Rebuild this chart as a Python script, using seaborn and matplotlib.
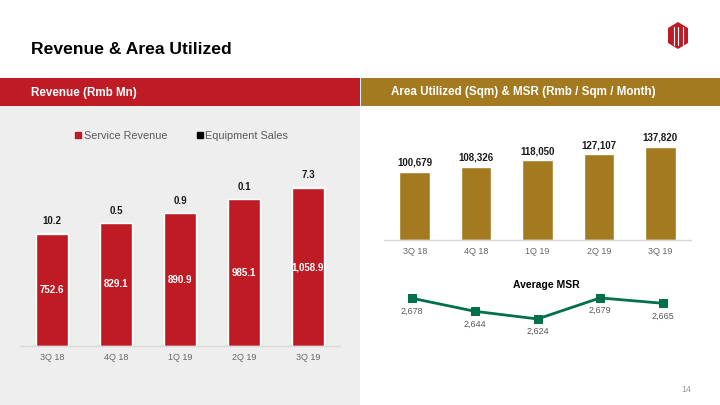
import numpy as np
import pandas as pd
import matplotlib
matplotlib.use("Agg")
import matplotlib.pyplot as plt
from matplotlib.patches import Rectangle, Polygon
from matplotlib.lines import Line2D
import seaborn as sns

# --- data ---
quarters = ["3Q 18", "4Q 18", "1Q 19", "2Q 19", "3Q 19"]
service_revenue = [752.6, 829.1, 890.9, 985.1, 1058.9]
equipment_sales = [10.2, 0.5, 0.9, 0.1, 7.3]
area_utilized = [100679, 108326, 118050, 127107, 137820]
avg_msr = [2678, 2644, 2624, 2679, 2665]

RED = "#BE1B24"
GOLD = "#A37A20"
GREEN = "#00704A"
GRAY_BG = "#EEEEEE"
TICK_GRAY = "#666666"

sns.set_theme(style="white")
plt.rcParams["font.family"] = ["Liberation Sans", "DejaVu Sans"]

W, H = 720, 405
fig = plt.figure(figsize=(7.2, 4.05), dpi=100)
fig.patch.set_facecolor("white")


def px_rect(x0, y0, x1, y1):
    # pixel box (top-left origin) -> figure fraction rect
    return [x0 / W, 1 - y1 / H, (x1 - x0) / W, (y1 - y0) / H]


# --- page decorations (behind the axes) ---
fig.patches.append(Rectangle((0, 0), 360 / W, 1 - 106 / H, transform=fig.transFigure,
                             facecolor=GRAY_BG, edgecolor="none", zorder=-5))
fig.patches.append(Rectangle((0, 1 - 106 / H), 360 / W, 28 / H, transform=fig.transFigure,
                             facecolor=RED, edgecolor="none", zorder=-5))
fig.patches.append(Rectangle((361 / W, 1 - 106 / H), 359 / W, 28 / H, transform=fig.transFigure,
                             facecolor=GOLD, edgecolor="none", zorder=-5))

fig.text(31 / W, 1 - 49 / H, "Revenue & Area Utilized", fontsize=12.6, fontweight="bold",
         color="black", va="center", ha="left")
fig.text(31 / W, 1 - 93 / H, "Revenue (Rmb Mn)", fontsize=8.4, fontweight="bold",
         color="white", va="center", ha="left")
fig.text(391 / W, 1 - 92.5 / H, "Area Utilized (Sqm) & MSR (Rmb / Sqm / Month)", fontsize=8.4,
         fontweight="bold", color="white", va="center", ha="left")
fig.text(686 / W, 1 - 389 / H, "14", fontsize=6.5, color="#9A9A9A", va="center", ha="center")

# logo (simplified hexagon)
hx = np.array([678, 688, 688, 678, 668, 668])
hy = np.array([22, 28, 43, 49, 43, 28])
fig.patches.append(Polygon(np.column_stack([hx / W, 1 - hy / H]), closed=True,
                           transform=fig.transFigure, facecolor=RED, edgecolor="none"))
for lx in (673.5, 678, 682.5):
    fig.lines.append(Line2D([lx / W, lx / W], [1 - 27 / H, 1 - 45 / H], transform=fig.transFigure,
                            color="white", lw=0.8))

# --- revenue stacked bars ---
rev = pd.DataFrame({"quarter": quarters, "service": service_revenue, "equipment": equipment_sales})
rev["total"] = rev["service"] + rev["equipment"]

ax1 = fig.add_axes(px_rect(20, 166, 340, 346))
ax1.set_facecolor("none")
sns.barplot(data=rev, x="quarter", y="total", color="black", width=0.5, saturation=1, ax=ax1)
sns.barplot(data=rev, x="quarter", y="service", color=RED, width=0.5, saturation=1, ax=ax1)
ax1.set_ylim(0, 1210)
ax1.set_xlim(-0.5, 4.5)
ax1.set_xlabel("")
ax1.set_ylabel("")
ax1.set_yticks([])
for s in ["top", "right", "left"]:
    ax1.spines[s].set_visible(False)
ax1.spines["bottom"].set_color("#D9D9D9")
ax1.spines["bottom"].set_linewidth(1)
ax1.tick_params(axis="x", length=0, labelsize=6.5, labelcolor=TICK_GRAY, pad=5)

for i, row in rev.iterrows():
    ax1.text(i, row["service"] / 2, f"{row['service']:,.1f}", ha="center", va="center",
             color="white", fontsize=7, fontweight="bold")
    ax1.annotate(f"{row['equipment']:.1f}", (i, row["total"]), xytext=(0, 5),
                 textcoords="offset points", ha="center", va="bottom",
                 fontsize=7, fontweight="bold", color="#1A1A1A")

handles = [Line2D([], [], marker="s", linestyle="none", color=RED, markersize=4.5),
           Line2D([], [], marker="s", linestyle="none", color="black", markersize=4.5)]
fig.legend(handles, ["Service Revenue", "Equipment Sales"], loc="center",
           bbox_to_anchor=(181 / W, 1 - 136 / H), ncol=2, frameon=False, fontsize=7.8,
           labelcolor="#595959", handletextpad=0.1, columnspacing=2.6, handlelength=0.8)

# --- area utilized bars ---
area = pd.DataFrame({"quarter": quarters, "area": area_utilized})
ax2 = fig.add_axes(px_rect(384, 140, 691, 240))
ax2.set_facecolor("none")
sns.barplot(data=area, x="quarter", y="area", color=GOLD, width=0.5, saturation=1, ax=ax2)
ax2.set_ylim(0, 148100)
ax2.set_xlim(-0.5, 4.5)
ax2.set_xlabel("")
ax2.set_ylabel("")
ax2.set_yticks([])
for s in ["top", "right", "left"]:
    ax2.spines[s].set_visible(False)
ax2.spines["bottom"].set_color("#D9D9D9")
ax2.spines["bottom"].set_linewidth(1)
ax2.tick_params(axis="x", length=0, labelsize=6.5, labelcolor=TICK_GRAY, pad=5)
for i, v in enumerate(area_utilized):
    ax2.annotate(f"{v:,}", (i, v), xytext=(0, 3), textcoords="offset points",
                 ha="center", va="bottom", fontsize=7, fontweight="bold", color="#1A1A1A")

# --- average MSR line ---
msr = pd.DataFrame({"quarter": quarters, "msr": avg_msr})
ax3 = fig.add_axes(px_rect(381, 270, 694, 340))
ax3.set_facecolor("none")
sns.lineplot(data=msr, x="quarter", y="msr", color=GREEN, linewidth=2, marker="s",
             markersize=5.5, markeredgecolor=GREEN, sort=False, ax=ax3)
ax3.set_ylim(2569, 2752)
ax3.set_xlim(-0.5, 4.5)
ax3.axis("off")
for i, v in enumerate(avg_msr):
    ax3.annotate(f"{v:,}", (i, v), xytext=(0, -6), textcoords="offset points",
                 ha="center", va="top", fontsize=6.5, color="#595959")
fig.text(546 / W, 1 - 285 / H, "Average MSR", fontsize=7.5, fontweight="bold",
         color="black", ha="center", va="center")

fig.savefig("out.png", dpi=100)
